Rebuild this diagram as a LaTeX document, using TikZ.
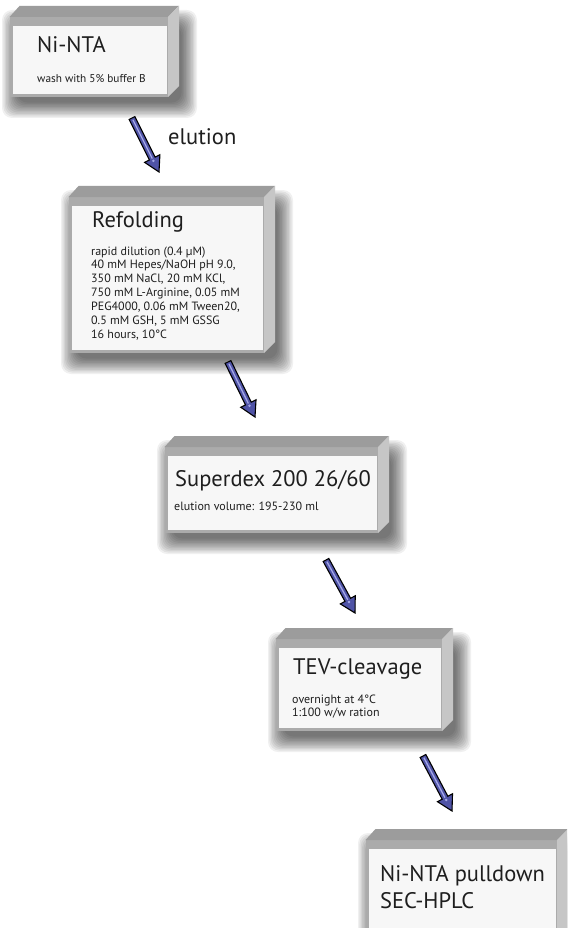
\documentclass[tikz,border=0pt]{standalone}
\usepackage{fontspec}
\setmainfont{PT Sans}
\usetikzlibrary{calc}
\definecolor{topgrey}{HTML}{9C9C9C}
\definecolor{bandgrey}{HTML}{ABABAB}
\definecolor{sidegrey}{HTML}{C6C6C6}
\definecolor{facewhite}{HTML}{F7F7F7}
\definecolor{arrowblue}{HTML}{4F53A6}
\definecolor{arrowlight}{HTML}{A3A7E6}
\definecolor{textgrey}{HTML}{1E1E1E}

% #1 name, #2 x1, #3 y1, #4 x2, #5 y2 (white front face, pixel coords, y down)
\newcommand\cubebox[5]{%
  \foreach \k in {0,...,11}{%
    \fill[black,opacity=0.06,rounded corners=10pt]
      ({#2+3-14+1.4*\k},{#3-2-14+1.4*\k}) rectangle ({#4+16+14-1.4*\k},{#5+10+14-1.4*\k});
  }%
  \fill[bandgrey] ({#2-3.5},{#3-9}) rectangle ({#4+1},{#5+3});
  \fill[topgrey] ({#2-3.5},{#3-9}) -- ({#2+6.5},{#3-20}) -- ({#4+12},{#3-20}) -- ({#4+1},{#3-9}) -- cycle;
  \fill[sidegrey] ({#4+1},{#3-9}) -- ({#4+12},{#3-20}) -- ({#4+12},{#5-8}) -- ({#4+1},{#5+3}) -- cycle;
  \node[face, minimum width={(#4-#2)*1pt}, minimum height={(#5-#3)*1pt}, anchor=north west] (#1) at (#2,#3) {};
}
% fat arrow from tail #1 to tip #2
\newcommand\fatarrow[2]{%
  \coordinate (hb) at ($(#2)!15pt!(#1)$);
  \filldraw[fatarrowstyle] ($(#1)!3.2pt!90:(#2)$) -- ($(hb)!3.2pt!-90:(#1)$) -- ($(hb)!8.5pt!-90:(#1)$) -- (#2)
    -- ($(hb)!8.5pt!90:(#1)$) -- ($(hb)!3.2pt!90:(#1)$) -- ($(#1)!3.2pt!-90:(#2)$) -- cycle;
  \draw[arrowlight, line width=1.3pt] ($(#1)!2pt!(#2)$) -- (hb);
  \fill[arrowlight] ($(hb)!2.5pt!(#2)$) circle (1.4pt);
}

\begin{document}
\begin{tikzpicture}[x=1pt, y=-1pt,
  face/.style={fill=facewhite, draw=none, inner sep=0pt},
  fatarrowstyle/.style={fill=arrowblue, draw=black, line width=1.1pt, line join=miter},
  title/.style={font=\fontsize{22.5}{27}\selectfont, text=textgrey, inner sep=0pt, anchor=base west},
  small/.style={font=\fontsize{12}{14}\selectfont, text=textgrey, inner sep=0pt, anchor=base west}]
\clip (0,0) rectangle (567,928);
\useasboundingbox (0,0) rectangle (567,928);
\fill[white] (0,0) rectangle (567,928);

% boxes
\cubebox{b1}{13}{26}{167}{94}
\cubebox{b2}{72}{206}{263}{350}
\cubebox{b3}{168}{456}{377}{530}
\cubebox{b4}{279}{648}{441}{728}
\cubebox{b5}{369}{849}{556}{950}

% texts
\node[title] (t1) at (37,53) {Ni-NTA};
\node[small, font=\fontsize{11.3}{14}\selectfont] (s1) at (37,83) {wash with 5\% buffer B};
\node[title] (el) at (168,145) {elution};
\node[title] (t2) at (92,227) {Refolding};
\foreach \t [count=\i] in {{rapid dilution (0.4 µM)},{40 mM Hepes/NaOH pH 9.0,},{350 mM NaCl, 20 mM KCl,},{750 mM L-Arginine, 0.05 mM},{PEG4000, 0.06 mM Tween20,},{0.5 mM GSH, 5 mM GSSG},{16 hours, 10°C}}
  \node[small] (r\i) at (91,{255+13.9*(\i-1)}) {\t};
\node[title] (t3) at (175,486) {Superdex 200 26/60};
\node[small] (s3) at (174,510) {elution volume: 195-230 ml};
\node[title] (t4) at (293,674) {TEV-cleavage};
\node[small] (s4a) at (292,703) {overnight at 4°C};
\node[small] (s4b) at (292,716) {1:100 w/w ration};
\node[title] (t5a) at (380,881) {Ni-NTA pulldown};
\node[title] (t5b) at (380,908) {SEC-HPLC};

% arrows
\coordinate (a1s) at (132,118); \coordinate (a1e) at (159,172);
\coordinate (a2s) at (228,362); \coordinate (a2e) at (255,417);
\coordinate (a3s) at (326,560); \coordinate (a3e) at (355,613);
\coordinate (a4s) at (423,756); \coordinate (a4e) at (452,811);
\fatarrow{a1s}{a1e}
\fatarrow{a2s}{a2e}
\fatarrow{a3s}{a3e}
\fatarrow{a4s}{a4e}
\end{tikzpicture}
\end{document}
